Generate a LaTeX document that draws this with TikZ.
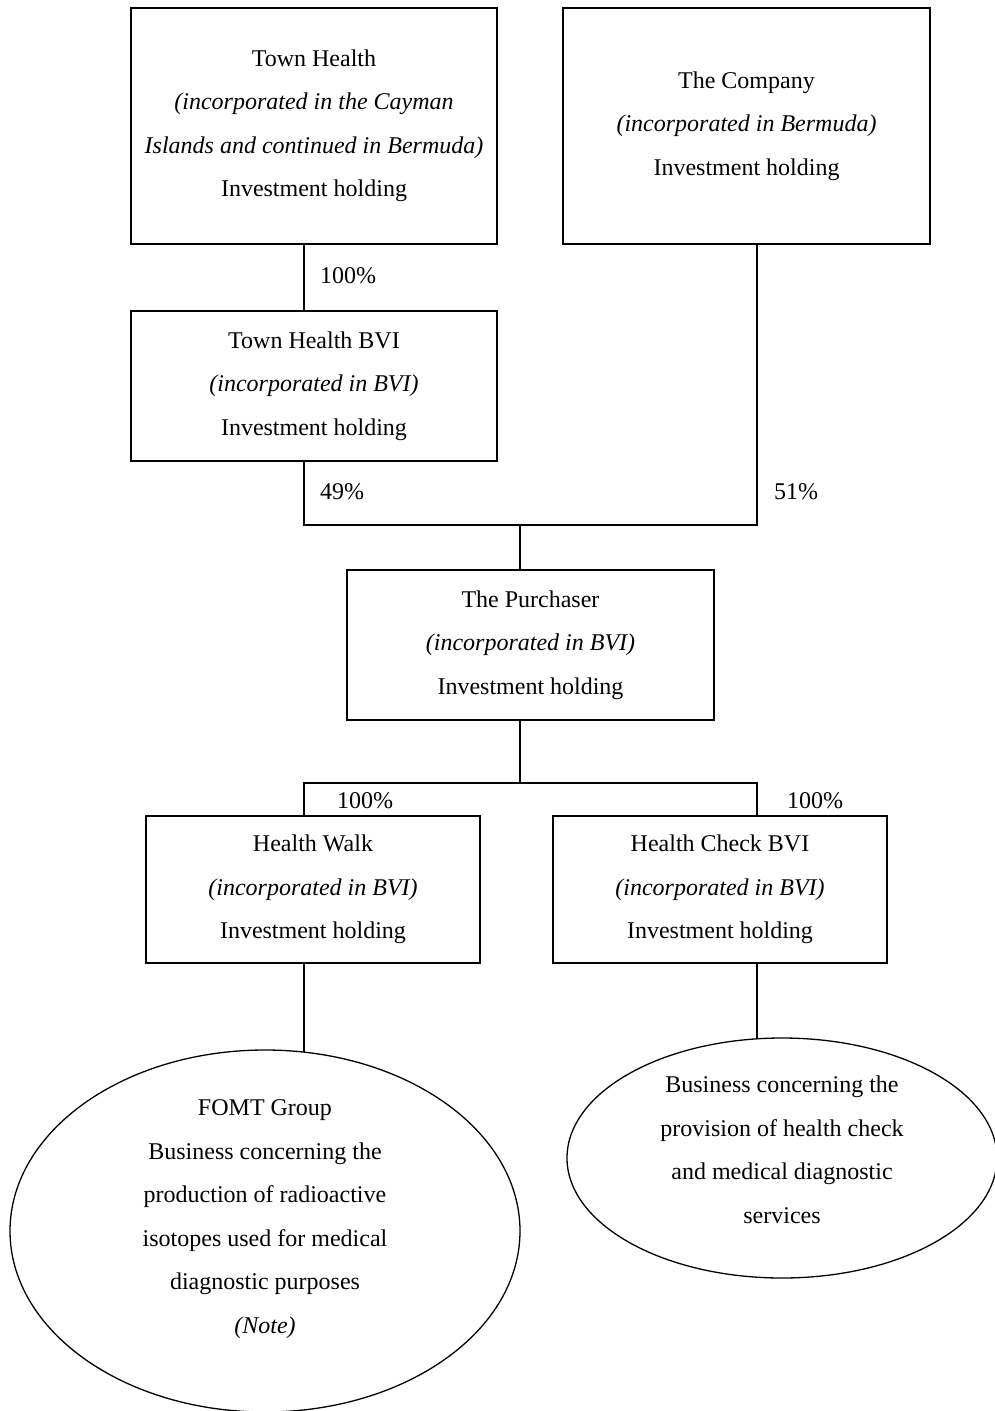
\documentclass[tikz,border=0pt]{standalone}
\usepackage{fontspec}
\setmainfont{Liberation Serif}
\usetikzlibrary{shapes.geometric,backgrounds}
\begin{document}
\begin{tikzpicture}[x=1pt,y=-1pt,
  every node/.style={font=\fontsize{24}{43.5}\selectfont},
  box/.style={draw,line width=1.3pt,fill=white,align=center,inner sep=0pt,minimum width=#1,minimum height=0pt},
  oval/.style={draw,line width=1.3pt,fill=white,ellipse,align=center,inner sep=0pt},
  pct/.style={inner sep=0pt},
  conn/.style={line width=1.3pt}]
\useasboundingbox (0,0) rectangle (995,1411);
\clip (0,0) rectangle (995,1411);
% boxes
\node[box=366pt,minimum height=236pt] (th) at (314,126) {Town Health\\ \textit{(incorporated in the Cayman}\\ \textit{Islands and continued in Bermuda)}\\ Investment holding};
\node[box=367pt,minimum height=236pt] (co) at (746.5,126) {The Company\\ \textit{(incorporated in Bermuda)}\\ Investment holding};
\node[box=366pt,minimum height=150pt] (thbvi) at (314,386) {Town Health BVI\\ \textit{(incorporated in BVI)}\\ Investment holding};
\node[box=367pt,minimum height=150pt] (pu) at (530.5,645) {The Purchaser\\ \textit{(incorporated in BVI)}\\ Investment holding};
\node[box=334pt,minimum height=147pt] (hw) at (313,889.5) {Health Walk\\ \textit{(incorporated in BVI)}\\ Investment holding};
\node[box=334pt,minimum height=147pt] (hc) at (720,889.5) {Health Check BVI\\ \textit{(incorporated in BVI)}\\ Investment holding};
% ellipses
\node[oval,minimum width=510pt,minimum height=362pt] (fomt) at (265,1231) {};
\node (fomtt) at (265,1219) [align=center] {FOMT Group\\ Business concerning the\\ production of radioactive\\ isotopes used for medical\\ diagnostic purposes\\ \textit{(Note)}};
\node[oval,minimum width=430pt,minimum height=240pt] (hcs) at (782,1158) {};
\node (hcst) at (782,1150) [align=center] {Business concerning the\\ provision of health check\\ and medical diagnostic\\ services};
% junction coordinates
\coordinate (xl) at (304,0);
\coordinate (xr) at (757,0);
\coordinate (j1) at (520,525);
\coordinate (j2) at (520,783);
\begin{pgfonlayer}{background}
\draw[conn] (th.south -| xl) -- (thbvi.north -| xl);
\draw[conn] (thbvi.south -| xl) |- (j1) -| (co.south -| xr);
\draw[conn] (j1) -- (pu.north -| j1);
\draw[conn] (pu.south -| j2) -- (j2);
\draw[conn] (hw.north -| xl) |- (j2) -| (hc.north -| xr);
\draw[conn] (hw.south -| xl) -- (fomt.center -| xl);
\draw[conn] (hc.south -| xr) -- (hcs.center -| xr);
\end{pgfonlayer}
% percentages
\node[pct] (p1) at (348,276) {100\%};
\node[pct] (p2) at (342,492) {49\%};
\node[pct] (p3) at (796,492) {51\%};
\node[pct] (p4) at (365,801) {100\%};
\node[pct] (p5) at (815,801) {100\%};
\end{tikzpicture}
\end{document}
